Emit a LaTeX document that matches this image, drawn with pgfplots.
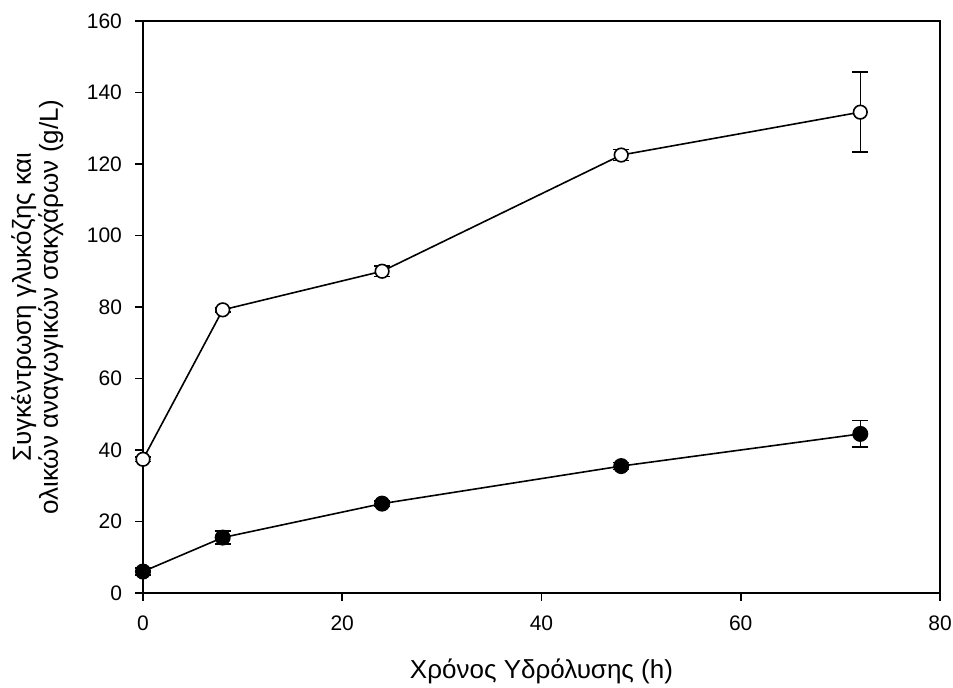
\documentclass[border=0pt]{standalone}
\usepackage{fontspec}
\setmainfont{Liberation Sans}
\usepackage{pgfplots}
\pgfplotsset{compat=1.18}

% glucose / total reducing sugars vs hydrolysis time
\pgfplotstableread{
x    y      ey
0    37.4   0.6
8    79.2   0.6
24   90.0   1.5
48   122.5  1.5
72   134.5  11.2
}\opencirc
\pgfplotstableread{
x    y      ey
0    6.0    1.0
8    15.5   1.8
24   25.0   0.8
48   35.5   1.0
72   44.5   3.7
}\filledcirc

\begin{document}
\begin{tikzpicture}
\useasboundingbox (-71.5pt,-47.5pt) rectangle (405pt,296.5pt);
\begin{axis}[
  scale only axis,
  width=398.5pt, height=286pt,
  xmin=0, xmax=80, ymin=0, ymax=160,
  xtick={0,20,...,80}, ytick={0,20,...,160},
  tick align=outside,
  major tick length=4pt,
  xtick pos=bottom, ytick pos=left,
  clip=false,
  axis line style={line width=0.8pt},
  every tick/.style={line width=0.8pt, black},
  /pgf/number format/assume math mode=true,
  ticklabel style={font=\fontsize{10.5}{12}\selectfont},
  xticklabel style={yshift=-4pt},
  yticklabel style={xshift=-3pt},
  label style={font=\fontsize{13}{13.5}\selectfont},
  xlabel={Χρόνος Υδρόλυσης (h)},
  xlabel style={yshift=-7pt},
  ylabel={Συγκέντρωση γλυκόζης και\\ολικών αναγωγικών σακχάρων (g/L)},
  ylabel style={align=center, yshift=5pt},
  error bars/error bar style={line width=0.8pt, black},
  error bars/error mark options={rotate=90, mark size=4pt, line width=0.8pt, black},
]
\addplot[black, line width=0.8pt, mark=*, mark size=3.4pt,
  mark options={fill=white, line width=0.8pt},
  error bars/.cd, y dir=both, y explicit]
  table[x=x, y=y, y error=ey] {\opencirc};
\addplot[black, line width=0.8pt, mark=*, mark size=3.6pt,
  mark options={fill=black},
  error bars/.cd, y dir=both, y explicit]
  table[x=x, y=y, y error=ey] {\filledcirc};
\end{axis}
\end{tikzpicture}
\end{document}
